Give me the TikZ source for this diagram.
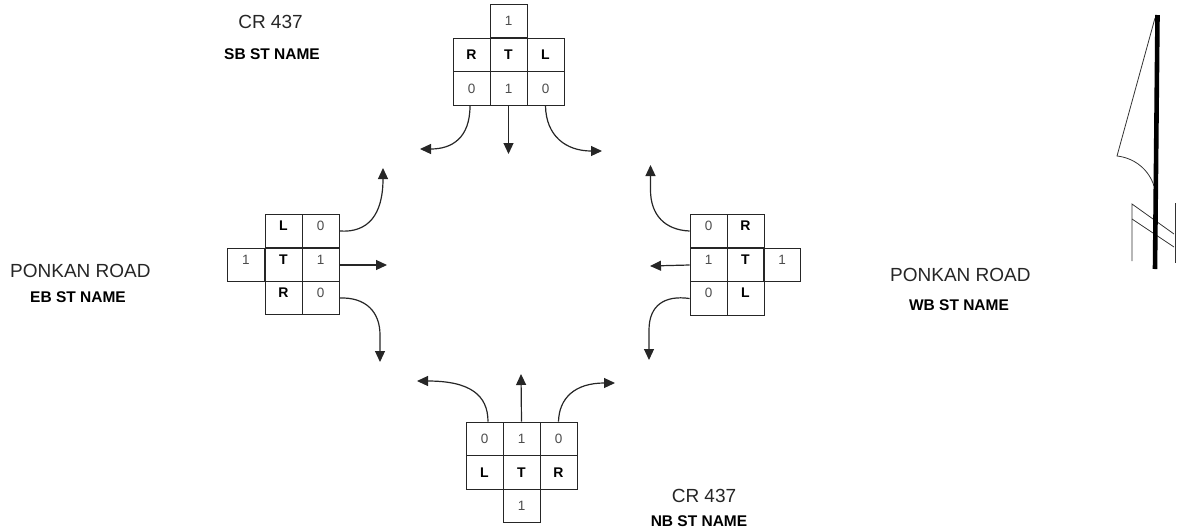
\documentclass[tikz,border=0pt]{standalone}
\usepackage{fontspec}
\setmainfont{Liberation Sans}
\usetikzlibrary{arrows.meta}
\newcommand{\upb}[1]{\raisebox{1pt}[0pt][0pt]{#1}}
\tikzset{
  x=1pt,y=-1pt,
  cell/.style={draw=black!85,line width=0.9pt,minimum width=37pt,minimum height=33.7pt,inner sep=0pt,font=\fontsize{13.5}{14}\selectfont,text=black!70},
  letter/.style={cell,font=\fontsize{14}{14}\selectfont\bfseries,text=black},
  flow/.style={draw=black!85,line width=1.2pt,-{Triangle[length=11pt,width=10pt]}},
  roadname/.style={font=\fontsize{19}{20}\selectfont,text=black!85,inner sep=0pt},
  dirname/.style={font=\fontsize{15.5}{16}\selectfont\bfseries,text=black,inner sep=0pt},
  sign/.style={draw=black!80,line width=0.8pt}
}
\begin{document}
\begin{tikzpicture}
\useasboundingbox (0,0) rectangle (1186,531);

% south-bound block
\node[cell] (sa) at (508.5,21) {1};
\node[letter] (sr) at (471.5,55) {R};
\node[letter] (st) at (508.5,55) {T};
\node[letter] (sl) at (545.5,55) {L};
\node[cell] (s0) at (471.5,88.5) {0};
\node[cell] (s1) at (508.5,88.5) {1};
\node[cell] (s2) at (545.5,88.5) {0};
\coordinate (se0) at (420,149);
\coordinate (se1) at (508.5,154);
\coordinate (se2) at (602,151);
\draw[flow] ([xshift=-1.5pt]s0.south) .. controls (470,138) and (452,149) .. (se0);
\draw[flow] (s1.south) -- (se1);
\draw[flow] (s2.south) .. controls (546,136) and (566,151) .. (se2);

% east-bound block
\node[cell] (ea) at (246,265) {\upb{1}};
\node[letter] (el) at (283.5,231) {\upb{L}};
\node[letter] (et) at (283.5,265) {\upb{T}};
\node[letter] (er) at (283.5,298) {\upb{R}};
\node[cell] (e0) at (320.5,231) {\upb{0}};
\node[cell] (e1) at (320.5,265) {\upb{1}};
\node[cell] (e2) at (320.5,298) {\upb{0}};
\coordinate (ee0) at (383,168);
\coordinate (ee1) at (387,265);
\coordinate (ee2) at (380,362);
\draw[flow] (e0.east) .. controls (368,233) and (383,215) .. (ee0);
\draw[flow] (e1.east) -- (ee1);
\draw[flow] (e2.east) .. controls (366,297) and (380,312) .. (380,335) -- (ee2);

% west-bound block
\node[cell] (wa) at (782,265) {\upb{1}};
\node[letter] (wr) at (745.5,231) {\upb{R}};
\node[letter] (wt) at (745.5,265) {\upb{T}};
\node[letter] (wl) at (745.5,298.5) {\upb{L}};
\node[cell] (w0) at (708.5,231) {\upb{0}};
\node[cell] (w1) at (708.5,265) {\upb{1}};
\node[cell] (w2) at (708.5,298.5) {\upb{0}};
\coordinate (we0) at (650.5,165);
\coordinate (we1) at (650,266);
\coordinate (we2) at (649,360);
\draw[flow] (w0.west) .. controls (665,230) and (650.5,215) .. (650.5,190) -- (we0);
\draw[flow] (w1.west) -- (we1);
\draw[flow] (w2.west) .. controls (665,295) and (649,305) .. (649,330) -- (we2);

% north-bound block
\node[cell] (na) at (521.5,506) {1};
\node[letter] (nl) at (484.5,472.5) {L};
\node[letter] (nt) at (521.5,472.5) {T};
\node[letter] (nr) at (558.5,472.5) {R};
\node[cell] (n0) at (484.5,439) {0};
\node[cell] (n1) at (521.5,439) {1};
\node[cell] (n2) at (558.5,439) {0};
\coordinate (ne0) at (417,381);
\coordinate (ne1) at (521,374);
\coordinate (ne2) at (615,383);
\draw[flow] ([xshift=3.5pt]n0.north) .. controls (488,395) and (470,381) .. (ne0);
\draw[flow] (n1.north) -- (ne1);
\draw[flow] (n2.north) .. controls (559,398) and (575,383) .. (ne2);

% road names
\node[roadname] (t1) at (270.5,22) {CR 437};
\node[dirname] (t2) at (272,54) {SB ST NAME};
\node[roadname,anchor=west] (t3) at (10,271) {PONKAN ROAD};
\node[dirname] (t4) at (78,297) {EB ST NAME};
\node[roadname,anchor=west] (t5) at (890,275) {PONKAN ROAD};
\node[dirname] (t6) at (959,305) {WB ST NAME};
\node[roadname] (t7) at (704,496) {CR 437};
\node[dirname] (t8) at (699,521) {NB ST NAME};

% north sign
\draw[sign] (1155,18) -- (1117,156) .. controls (1135,158) and (1149,170) .. (1154,186);
\draw[sign] (1132,261) -- (1132,204) -- (1174,234);
\draw[sign] (1132,219) -- (1174,247);
\draw[sign] (1175,203) -- (1175,263);
\draw[line width=4.6pt,black] (1157.5,15) -- (1155,269);
\end{tikzpicture}
\end{document}
